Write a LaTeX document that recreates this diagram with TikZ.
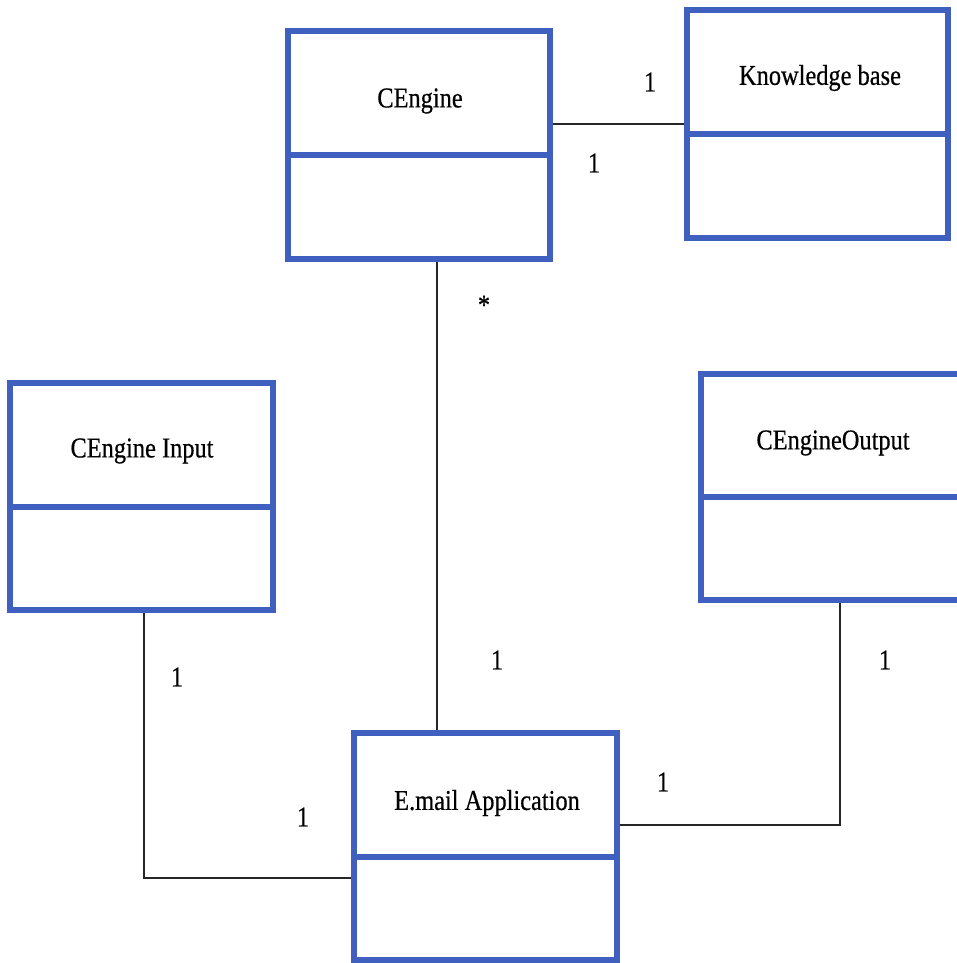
\documentclass[tikz,border=0pt]{standalone}
\usepackage{fontspec}
\setmainfont{Liberation Serif}
\newfontface\labelface{Liberation Serif}[FakeBold=0.6]
\usetikzlibrary{calc}
\definecolor{umlblue}{RGB}{64,96,192}
\newcommand{\lbl}[1]{\scalebox{0.85}[1]{\labelface\fontsize{28.7}{30}\selectfont #1}}
\tikzset{
  classbox/.style={draw=umlblue, line width=6pt, rectangle, inner sep=0pt},
  title/.style={inner sep=0pt, text=black},
  mult/.style={inner sep=0pt, text=black},
  assoc/.style={draw=black!85, line width=1.3pt},
  divider/.style={draw=umlblue, line width=6pt}
}
\begin{document}
\begin{tikzpicture}[x=1pt, y=-1pt]
\useasboundingbox (0,0) rectangle (957,963);
\clip (0,0) rectangle (957,963);

% class boxes
\node[classbox, minimum width=262pt, minimum height=228pt] (engine) at (419,145) {};
\node[classbox, minimum width=261pt, minimum height=228pt] (kb) at (817.5,124) {};
\node[classbox, minimum width=263pt, minimum height=227pt] (input) at (141.5,496.5) {};
\node[classbox, minimum width=263pt, minimum height=226pt] (output) at (832.5,487) {};
\node[classbox, minimum width=263pt, minimum height=227pt] (email) at (485.5,846.5) {};

% compartment dividers
\foreach \b in {engine,kb,input,output,email}{
  \draw[divider] ($(\b.north west)!0.543!(\b.south west)$) -- ($(\b.north east)!0.543!(\b.south east)$);
}

% class names
\node[title] (engineT) at (420,101) {\lbl{CEngine}};
\node[title] (kbT) at (820,78) {\lbl{Knowledge base}};
\node[title] (inputT) at (142,451) {\lbl{CEngine Input}};
\node[title] (outputT) at (833,443) {\lbl{CEngineOutput}};
\node[title] (emailT) at (487,803) {\lbl{E.mail Application}};

% associations
\draw[assoc] (kb.west) -- (kb.west -| engine.east);
\coordinate (vx) at (437,0);
\draw[assoc] (engine.south -| vx) -- (email.north -| vx);
\draw[assoc] ([xshift=2.5pt]input.south) |- ([yshift=-31.5pt]email.west);
\draw[assoc] ([xshift=7.5pt]output.south) |- ([yshift=21.5pt]email.east);

% multiplicities
\node[mult] (m1) at (650,82) {\lbl{1}};
\node[mult] (m2) at (594,163) {\lbl{1}};
\node[mult] (m3) at (484,305) {\lbl{*}};
\node[mult] (m4) at (497,660) {\lbl{1}};
\node[mult] (m5) at (177,677) {\lbl{1}};
\node[mult] (m6) at (303,817) {\lbl{1}};
\node[mult] (m7) at (663,782) {\lbl{1}};
\node[mult] (m8) at (885,660) {\lbl{1}};
\end{tikzpicture}
\end{document}
